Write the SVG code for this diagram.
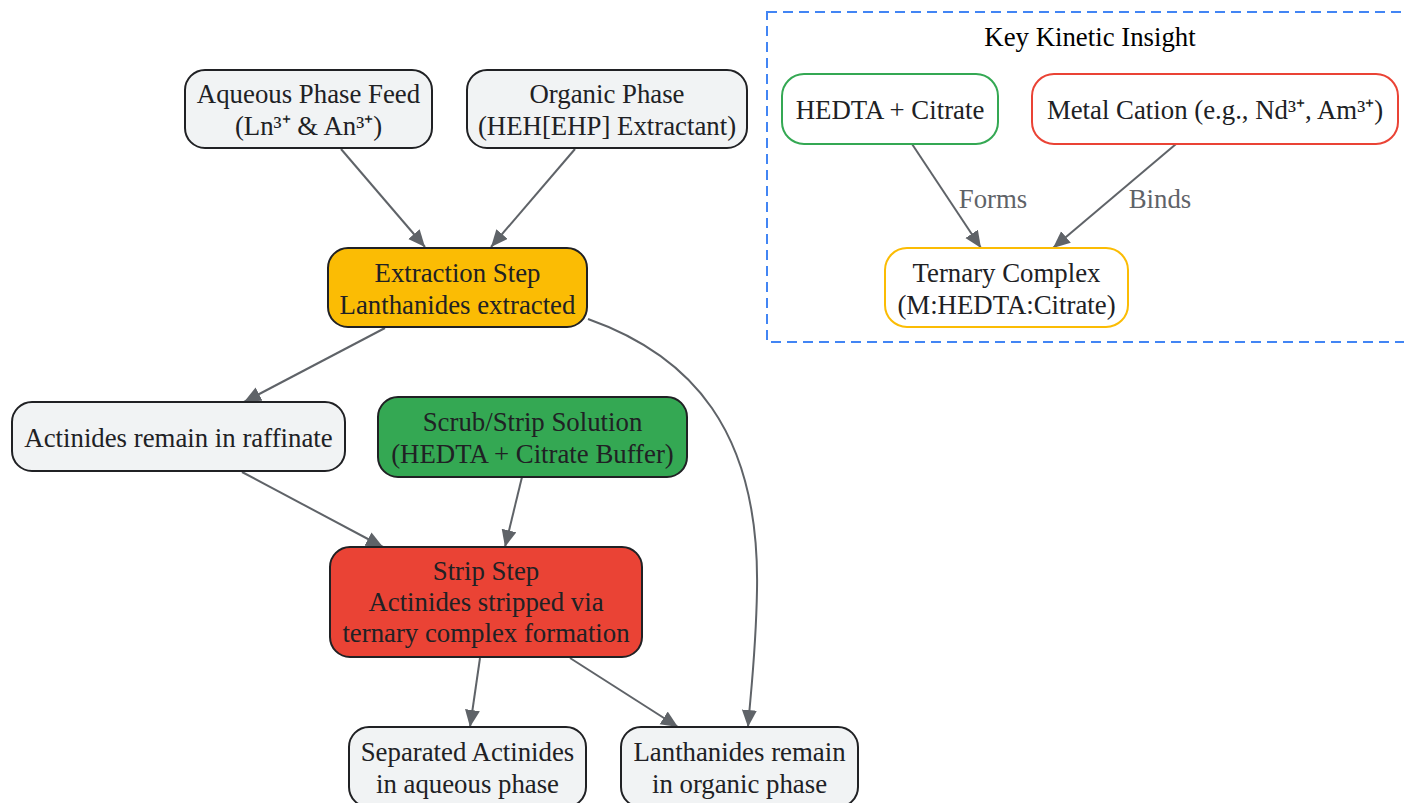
<svg xmlns="http://www.w3.org/2000/svg" width="1404" height="803" viewBox="0 0 1404 803">
<defs>
<marker id="arr" markerUnits="userSpaceOnUse" markerWidth="20" markerHeight="18" refX="17" refY="7.5" orient="auto">
<path d="M0,0 L17,7.5 L0,15 z" fill="#5f6368"/>
</marker>
<style>
text{font-family:"Liberation Serif","Times New Roman",serif;font-size:26.8px;fill:#202124;text-anchor:middle}
.n{fill:#f1f3f4;stroke:#202124;stroke-width:2}
.y{fill:#fbbc04;stroke:#202124;stroke-width:2}
.g{fill:#34a853;stroke:#202124;stroke-width:2}
.r{fill:#ea4335;stroke:#202124;stroke-width:2}
.cg{fill:#ffffff;stroke:#34a853;stroke-width:2}
.cr{fill:#ffffff;stroke:#ea4335;stroke-width:2}
.cy{fill:#ffffff;stroke:#fbbc04;stroke-width:2}
.e{fill:none;stroke:#5f6368;stroke-width:2;marker-end:url(#arr)}
.lbl{fill:#5f6368}
</style>
</defs>
<rect width="1404" height="803" fill="#ffffff"/>
<g id="cluster">
<rect x="767" y="12" width="650" height="330" fill="none" stroke="#4285f4" stroke-width="2" stroke-dasharray="10,6"/>
<text x="1090" y="46" style="fill:#000000">Key Kinetic Insight</text>
</g>
<g id="connectors">
<path class="e" d="M341,149 L425,247"/>
<path class="e" d="M575,149 L491,247"/>
<path class="e" d="M385,328 L244,402"/>
<path class="e" d="M588,319 C690,355 760,430 757,590 C756,650 751,690 748,727"/>
<path class="e" d="M242,472 L383,547"/>
<path class="e" d="M522,477 L505,547"/>
<path class="e" d="M480,658 L470,727"/>
<path class="e" d="M570,658 L678,727"/>
<path class="e" d="M912,144 L981,248"/>
<path class="e" d="M1176,144 L1053,248"/>
<text class="lbl" x="993" y="208">Forms</text>
<text class="lbl" x="1160" y="208">Binds</text>
</g>
<g id="aqueous">
<rect class="n" x="185" y="70" width="247" height="78" rx="20"/>
<text x="308.5" y="103">Aqueous Phase Feed</text>
<text x="308.5" y="135">(Ln³⁺ &amp; An³⁺)</text>
</g>
<g id="organic">
<rect class="n" x="467" y="70" width="280" height="78" rx="20"/>
<text x="607" y="103">Organic Phase</text>
<text x="607" y="135">(HEH[EHP] Extractant)</text>
</g>
<g id="extraction">
<rect class="y" x="328" y="248" width="259" height="79" rx="20"/>
<text x="457.5" y="282">Extraction Step</text>
<text x="457.5" y="314">Lanthanides extracted</text>
</g>
<g id="raffinate">
<rect class="n" x="12" y="402" width="333" height="69" rx="20"/>
<text x="178.5" y="446.5">Actinides remain in raffinate</text>
</g>
<g id="scrub">
<rect class="g" x="378" y="397" width="309" height="80" rx="20"/>
<text x="532.5" y="431">Scrub/Strip Solution</text>
<text x="532.5" y="463">(HEDTA + Citrate Buffer)</text>
</g>
<g id="strip">
<rect class="r" x="330" y="547" width="312" height="110" rx="20"/>
<text x="486" y="580">Strip Step</text>
<text x="486" y="611">Actinides stripped via</text>
<text x="486" y="642">ternary complex formation</text>
</g>
<g id="separated">
<rect class="n" x="349" y="727" width="237" height="80" rx="20"/>
<text x="467.5" y="761">Separated Actinides</text>
<text x="467.5" y="793">in aqueous phase</text>
</g>
<g id="lanthanides">
<rect class="n" x="621" y="727" width="237" height="80" rx="20"/>
<text x="739.5" y="761">Lanthanides remain</text>
<text x="739.5" y="793">in organic phase</text>
</g>
<g id="hedta">
<rect class="cg" x="782" y="74" width="216" height="70" rx="22"/>
<text x="890" y="119">HEDTA + Citrate</text>
</g>
<g id="metal">
<rect class="cr" x="1032" y="74" width="366" height="70" rx="22"/>
<text x="1215" y="119">Metal Cation (e.g., Nd³⁺, Am³⁺)</text>
</g>
<g id="ternary">
<rect class="cy" x="885" y="248" width="243" height="79" rx="22"/>
<text x="1006.5" y="282">Ternary Complex</text>
<text x="1006.5" y="314">(M:HEDTA:Citrate)</text>
</g>
</svg>
